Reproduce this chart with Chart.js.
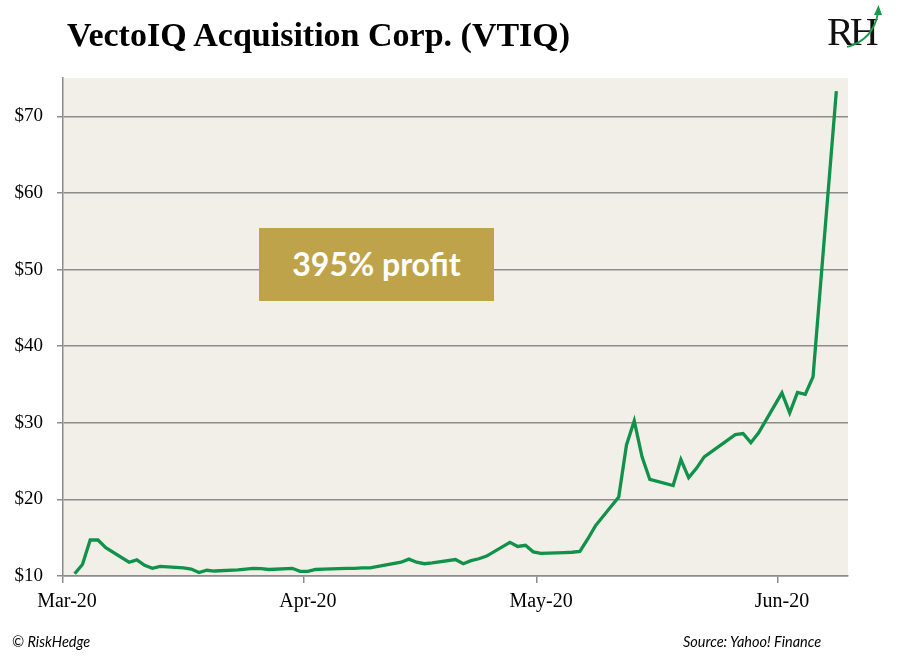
<!DOCTYPE html>
<html>
<head>
<meta charset="utf-8">
<script src="https://cdn.jsdelivr.net/npm/chart.js@4/dist/chart.umd.min.js"></script>
<style>
  html, body { margin: 0; padding: 0; background: #ffffff; }
  #wrap { position: relative; width: 910px; height: 660px; overflow: hidden; }
  #c { position: absolute; left: 0; top: 0; }
  .title { position: absolute; left: 67px; top: 15px; font: bold 34px 'Liberation Serif', serif; line-height: 40px; color: #000; white-space: nowrap; }
  .logo { position: absolute; left: 827px; top: 10px; font: 40px 'Liberation Serif', serif; line-height: 44px; color: #111; letter-spacing: -4px; white-space: nowrap; }
  .box { position: absolute; left: 259px; top: 228px; width: 235px; height: 73px; background: #BFA34A; color: #ffffff; font: bold 32px 'Lato', sans-serif; display: flex; align-items: center; justify-content: center; box-sizing: border-box; padding-bottom: 2px; white-space: nowrap; }
  .foot { position: absolute; top: 633px; font: italic 14.5px 'Lato', sans-serif; line-height: 17px; color: #000; white-space: nowrap; }
</style>
</head>
<body>
<div id="wrap">
  <canvas id="c" width="910" height="660"></canvas>
  <div class="title">VectoIQ Acquisition Corp. (VTIQ)</div>
  <div class="logo">RH</div>
  <svg style="position:absolute;left:0;top:0" width="910" height="660">
    <path d="M847 47 Q873 40 878 13" fill="none" stroke="#1a9a4a" stroke-width="1.8"/>
    <path d="M874 15 L878.5 5 L882 15 Z" fill="#1a9a4a"/>
  </svg>
  <div class="box">395% profit</div>
  <div class="foot" style="left:12px">© RiskHedge</div>
  <div class="foot" style="left:683px">Source: Yahoo! Finance</div>
</div>
<script>
// ---- data ----
const dates = [
  '2020-03-02','2020-03-03','2020-03-04','2020-03-05','2020-03-06',
  '2020-03-09','2020-03-10','2020-03-11','2020-03-12','2020-03-13',
  '2020-03-16','2020-03-17','2020-03-18','2020-03-19','2020-03-20',
  '2020-03-23','2020-03-24','2020-03-25','2020-03-26','2020-03-27',
  '2020-03-30','2020-03-31',
  '2020-04-01','2020-04-02','2020-04-03',
  '2020-04-06','2020-04-07','2020-04-08','2020-04-09',
  '2020-04-13','2020-04-14','2020-04-15','2020-04-16','2020-04-17',
  '2020-04-20','2020-04-21','2020-04-22','2020-04-23','2020-04-24',
  '2020-04-27','2020-04-28','2020-04-29','2020-04-30',
  '2020-05-01',
  '2020-05-04','2020-05-05','2020-05-06','2020-05-07','2020-05-08',
  '2020-05-11','2020-05-12','2020-05-13','2020-05-14','2020-05-15',
  '2020-05-18','2020-05-19','2020-05-20','2020-05-21','2020-05-22',
  '2020-05-26','2020-05-27','2020-05-28','2020-05-29',
  '2020-06-01','2020-06-02','2020-06-03','2020-06-04','2020-06-05',
  '2020-06-08'
];
const prices = [
  10.3, 11.5, 14.7, 14.7, 13.7,
  11.8, 12.1, 11.4, 11.0, 11.25,
  11.05, 10.9, 10.45, 10.75, 10.65,
  10.8, 10.9, 11.0, 10.95, 10.85,
  11.0, 10.6,
  10.6, 10.85, 10.9,
  11.0, 11.0, 11.05, 11.05,
  11.8, 12.2, 11.8, 11.6, 11.7,
  12.15, 11.6, 12.0, 12.25, 12.6,
  14.4, 13.85, 14.0, 13.15,
  12.95,
  13.05, 13.1, 13.2, 14.8, 16.55,
  20.3, 27.1, 30.25, 25.55, 22.6,
  21.8, 25.2, 22.85, 24.05, 25.55,
  28.45, 28.6, 27.4, 28.7,
  33.9, 31.3, 33.95, 33.7, 36.0,
  73.3
];
const axisStart = '2020-03-01';
const axisEndDays = 101;
const xTickDays = [0, 31, 61, 92];
const xTickLabels = ['Mar-20', 'Apr-20', 'May-20', 'Jun-20'];
const yTicks = [10, 20, 30, 40, 50, 60, 70];
const yMin = 10, yMax = 75;

// ---- build ----
function dayNum(s) {
  const p = s.split('-').map(Number);
  const q = axisStart.split('-').map(Number);
  return (Date.UTC(p[0], p[1] - 1, p[2]) - Date.UTC(q[0], q[1] - 1, q[2])) / 86400000;
}
// each day's point sits in the middle of its day slot (date axis, between tick marks)
const points = dates.map((d, i) => ({ x: dayNum(d) + 0.5, y: prices[i] }));

const gridColor = '#8c8c8c';
const plotBg = {
  id: 'plotBg',
  beforeDraw(chart) {
    const { ctx, chartArea: a } = chart;
    ctx.save();
    ctx.fillStyle = '#F2EFE9';
    ctx.fillRect(a.left, a.top, a.right - a.left, a.bottom - a.top);
    ctx.restore();
  }
};

new Chart(document.getElementById('c'), {
  type: 'line',
  data: {
    datasets: [{
      data: points,
      borderColor: '#11924A',
      borderWidth: 3.3,
      pointRadius: 0,
      tension: 0,
      fill: false
    }]
  },
  options: {
    responsive: false,
    animation: false,
    layout: { padding: { top: 78, right: 62, left: 0, bottom: 0 } },
    plugins: { legend: { display: false }, tooltip: { enabled: false } },
    scales: {
      x: {
        type: 'linear',
        min: 0,
        max: axisEndDays,
        afterBuildTicks(s) { s.ticks = xTickDays.map(v => ({ value: v })); },
        afterFit(s) { s.height = 84; },
        ticks: {
          autoSkip: false,
          maxRotation: 0,
          minRotation: 0,
          labelOffset: 4,
          padding: 7,
          color: '#000',
          font: { family: "'Liberation Serif', serif", size: 20 },
          callback(v) { const i = xTickDays.indexOf(v); return i >= 0 ? xTickLabels[i] : ''; }
        },
        grid: { drawOnChartArea: false, drawTicks: true, tickLength: 7, color: gridColor, lineWidth: 1.5 },
        border: { display: true, color: gridColor, width: 1.5 }
      },
      y: {
        type: 'linear',
        min: yMin,
        max: yMax,
        afterBuildTicks(s) { s.ticks = yTicks.map(v => ({ value: v })); },
        afterFit(s) { s.width = 63; },
        ticks: {
          padding: 14,
          color: '#000',
          font: { family: "'Liberation Serif', serif", size: 19 },
          callback(v) { return '$' + v; }
        },
        grid: { color: gridColor, lineWidth: 1.5, tickLength: 6, drawTicks: true },
        border: { display: true, color: gridColor, width: 1.5 }
      }
    }
  },
  plugins: [plotBg]
});
</script>
</body>
</html>
